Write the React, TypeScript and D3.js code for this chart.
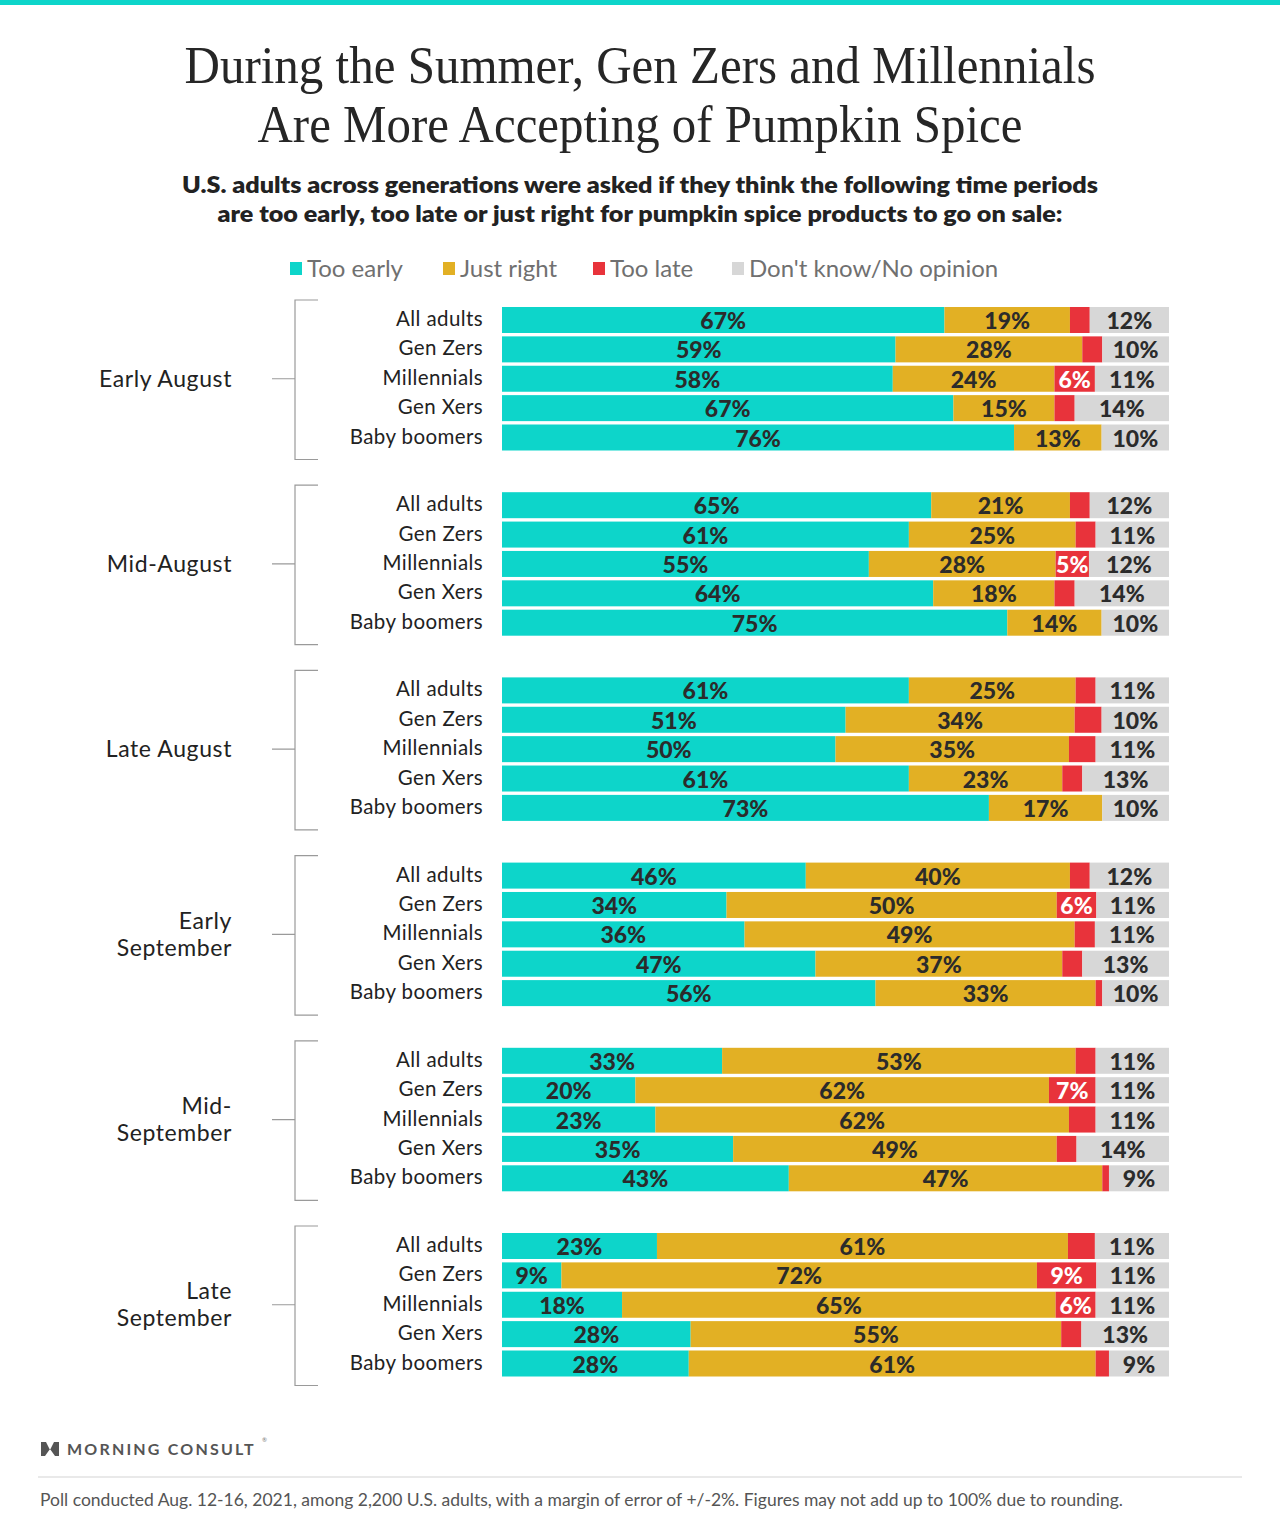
import { useEffect } from 'react';
import * as d3 from 'd3';

const periods = ['Early August', 'Mid-August', 'Late August', 'Early September', 'Mid-September', 'Late September'];
const periodLines = [['Early August'], ['Mid-August'], ['Late August'], ['Early', 'September'], ['Mid-', 'September'], ['Late', 'September']];
const generations = ['All adults', 'Gen Zers', 'Millennials', 'Gen Xers', 'Baby boomers'];

const seriesNames = ['Too early', 'Just right', 'Too late', "Don't know/No opinion"];
const seriesKeys = ['early', 'right', 'late', 'dk'];
const seriesColors = ['#0dd5ca', '#e2b024', '#e8333b', '#d7d7d7'];

// rows: All adults, Gen Zers, Millennials, Gen Xers, Baby boomers
const tooEarly = [
  [67, 59, 58, 67, 76],
  [65, 61, 55, 64, 75],
  [61, 51, 50, 61, 73],
  [46, 34, 36, 47, 56],
  [33, 20, 23, 35, 43],
  [23, 9, 18, 28, 28],
];
const justRight = [
  [19, 28, 24, 15, 13],
  [21, 25, 28, 18, 14],
  [25, 34, 35, 23, 17],
  [40, 50, 49, 37, 33],
  [53, 62, 62, 49, 47],
  [61, 72, 65, 55, 61],
];
const tooLate = [
  [3, 3, 6, 3, 0],
  [3, 3, 5, 3, 0],
  [3, 4, 4, 3, 0],
  [3, 6, 3, 3, 1],
  [3, 7, 4, 3, 1],
  [4, 9, 6, 3, 2],
];
const dontKnow = [
  [12, 10, 11, 14, 10],
  [12, 11, 12, 14, 10],
  [11, 10, 11, 13, 10],
  [12, 11, 11, 13, 10],
  [11, 11, 11, 14, 9],
  [11, 11, 11, 13, 9],
];

type Row = { period: number; gen: number; early: number; right: number; late: number; dk: number };

const rows: Row[] = periods.flatMap((_, p) =>
  generations.map((_, g) => ({
    period: p,
    gen: g,
    early: tooEarly[p][g],
    right: justRight[p][g],
    late: tooLate[p][g],
    dk: dontKnow[p][g],
  }))
);

const W = 1280;
const H = 1536;
const SANS = 'Lato, "Open Sans", sans-serif';

export default function App() {
  useEffect(() => {
    document.body.style.margin = '0';
  }, []);

  const x = d3.scaleLinear().domain([0, 1]).range([502, 1169]);
  const groupY = d3.scaleLinear().domain([0, 5]).range([320, 1246]);
  const rowY = d3.scaleLinear().domain([0, 4]).range([0, 117.5]);
  const cy = (r: Row) => groupY(r.period) + rowY(r.gen);
  const barH = 26;

  // each bar is stretched to the full width (shares of its own total)
  const stacked = d3.stack<Row>().keys(seriesKeys).offset(d3.stackOffsetExpand)(rows);

  const legendX = [290, 443, 593, 732];

  return (
    <svg width={W} height={H} style={{ display: 'block', background: '#fff' }}>
      <rect x={0} y={0} width={W} height={5} fill="#0dd5ca" />

      <g fontFamily='"Liberation Serif", serif' fill="#262626" textAnchor="middle" fontSize={52}>
        <text x={640} y={83} textLength={911} lengthAdjust="spacingAndGlyphs">
          During the Summer, Gen Zers and Millennials
        </text>
        <text x={640} y={142} textLength={765} lengthAdjust="spacingAndGlyphs">
          Are More Accepting of Pumpkin Spice
        </text>
      </g>

      <g fontFamily={SANS} fontWeight={800} fill="#222" textAnchor="middle" fontSize={23}>
        <text x={640} y={193} textLength={916} lengthAdjust="spacingAndGlyphs">
          U.S. adults across generations were asked if they think the following time periods
        </text>
        <text x={640} y={222} textLength={845} lengthAdjust="spacingAndGlyphs">
          are too early, too late or just right for pumpkin spice products to go on sale:
        </text>
      </g>

      <g fontFamily={SANS} fontSize={24} fill="#707070">
        {seriesNames.map((n, i) => (
          <g key={n}>
            <rect x={legendX[i]} y={262} width={12} height={13} fill={seriesColors[i]} />
            <text x={legendX[i] + 17} y={277}>
              {n}
            </text>
          </g>
        ))}
      </g>

      {periods.map((p, i) => {
        const top = groupY(i) - 20;
        const bottom = groupY(i) + rowY(4) + 22;
        const mid = groupY(i) + rowY(2);
        const lines = periodLines[i];
        return (
          <g key={p}>
            <path
              d={`M318,${top}H295V${bottom}H318M272,${mid}H295`}
              fill="none"
              stroke="#9a9a9a"
              strokeWidth={1.2}
            />
            <text
              x={232}
              y={mid + 8 - (lines.length - 1) * 13.5}
              textAnchor="end"
              fontFamily={SANS}
              fontSize={23}
              letterSpacing={0.6}
              fill="#222"
            >
              {lines.map((l, k) => (
                <tspan key={k} x={232} dy={k === 0 ? 0 : 27}>
                  {l}
                </tspan>
              ))}
            </text>
          </g>
        );
      })}

      <g fontFamily={SANS} fontSize={20.5} letterSpacing={0.4} fill="#222" textAnchor="end">
        {rows.map((r) => (
          <text key={`l${r.period}-${r.gen}`} x={483} y={cy(r) + 6}>
            {generations[r.gen]}
          </text>
        ))}
      </g>

      {stacked.map((s, si) => (
        <g key={s.key}>
          {s.map((d, j) => {
            const r = rows[j];
            const v = r[s.key as keyof Row] as number;
            const x0 = x(d[0]);
            const x1 = x(d[1]);
            return (
              <g key={j}>
                <rect x={x0} y={cy(r) - barH / 2} width={Math.max(0, x1 - x0)} height={barH} fill={seriesColors[si]} />
                {v >= 5 && (
                  <text
                    x={(x0 + x1) / 2}
                    y={cy(r) + 9}
                    textAnchor="middle"
                    fontFamily={SANS}
                    fontWeight={900}
                    fontSize={23}
                    fill={si === 2 ? '#fff' : '#2b2b2b'}
                  >
                    {v}%
                  </text>
                )}
              </g>
            );
          })}
        </g>
      ))}

      <g>
        <path d="M41,1442L46,1442L50,1450L54,1442L59,1442L59,1456L55,1456L50,1449L45,1456L41,1456Z" fill="#555" />
        <text
          x={67}
          y={1455}
          fontFamily={SANS}
          fontWeight={700}
          fontSize={16}
          letterSpacing={2.4}
          textLength={189}
          fill="#555"
        >
          MORNING CONSULT
        </text>
        <text x={262} y={1442} fontFamily={SANS} fontSize={6} fill="#777">
          ®
        </text>
      </g>
      <line x1={38} x2={1242} y1={1477} y2={1477} stroke="#e2e2e2" strokeWidth={1.5} />
      <text x={40} y={1506} fontFamily={SANS} fontSize={17.5} fill="#555">
        Poll conducted Aug. 12-16, 2021, among 2,200 U.S. adults, with a margin of error of +/-2%. Figures may not add up to 100% due to rounding.
      </text>
    </svg>
  );
}
